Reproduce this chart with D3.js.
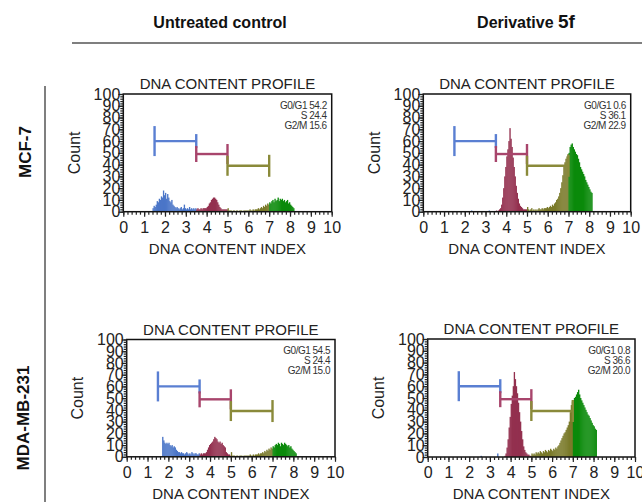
<!DOCTYPE html>
<html><head><meta charset="utf-8">
<script src="https://cdn.jsdelivr.net/npm/d3@7/dist/d3.min.js"></script>
<style>body{margin:0;background:#fff}svg{display:block}</style>
</head><body>
<svg id="chart" width="642" height="502"></svg>
<script>
// ---------------- DATA ----------------
const columnLabels = ["Untreated control", "Derivative"];
const columnLabelSuffix = ["", "5f"];
const rowLabels = ["MCF-7", "MDA-MB-231"];
const panelTitle = "DNA CONTENT PROFILE";
const xAxisTitle = "DNA CONTENT INDEX";
const yAxisTitle = "Count";
const xTicks = [0,1,2,3,4,5,6,7,8,9,10];
const yTicks = [0,10,20,30,40,50,60,70,80,90,100];
const statNames = ["G0/G1", "S", "G2/M"];
// histogram bins: start 1.40, width 0.05
const binStart = 1.40;
const binWidth = 0.05;
const countsMCF7Control = [
  3,5,4,6,9,8,11,10,13,12,
  18,14,16,11,15,12,9,8,10,6,
  5,4,3,4,3,2,3,4,2,3,
  6,3,2,3,2,4,2,3,2,3,
  2,3,2,3,2,2,3,2,3,3,
  3,3,4,5,7,8,10,11,12,12,
  11,10,8,6,4,3,2,2,2,2,
  2,2,3,1,1,1,0,1,1,0,
  1,1,0,1,1,1,0,1,1,1,
  1,1,1,2,1,1,2,1,2,2,
  2,3,2,3,4,3,5,4,6,5,
  7,6,8,7,9,10,8,11,9,10,
  12,9,11,10,11,9,10,8,9,10,
  7,8,6,5,4,3
];
const countsMCF7Deriv = [
  0,0,0,0,0,0,0,0,0,0,
  0,0,0,0,0,0,0,0,1,0,
  0,0,0,0,0,0,0,0,0,0,
  0,0,0,0,0,1,0,0,0,0,
  0,0,1,0,1,2,3,6,12,20,
  30,38,47,53,60,71,62,55,46,38,
  30,22,16,11,7,5,4,3,2,2,
  2,2,4,2,1,2,3,1,2,1,
  2,1,2,3,2,2,3,2,3,3,
  3,4,3,4,5,4,6,5,7,8,
  10,11,13,16,20,25,31,38,42,45,
  47,49,50,55,57,58,55,53,51,49,
  48,45,42,38,36,34,32,30,27,25,
  23,21,19,17,16
];
const countsMDAControl = [
  0,0,0,0,0,0,17,14,12,11,
  12,11,12,10,9,10,8,9,8,6,
  5,4,4,3,4,3,3,2,3,4,
  3,2,3,2,4,3,2,3,3,2,
  2,3,2,3,2,3,3,3,4,6,
  8,10,11,12,13,15,17,16,15,13,
  12,13,11,12,10,9,8,4,3,2,
  2,1,4,1,1,1,0,1,1,0,
  1,1,1,0,1,1,1,1,1,1,
  2,1,1,2,1,2,2,2,3,2,
  3,3,4,3,5,4,6,5,7,6,
  8,7,9,8,10,11,10,12,11,9,
  12,11,10,12,11,10,9,10,8,9,
  7,6,5,4,3
];
const countsMDADeriv = [
  0,0,0,0,0,0,0,0,0,0,
  0,0,0,0,0,0,0,0,0,0,
  0,0,0,1,0,0,0,0,0,0,
  0,0,0,0,0,0,0,0,0,3,
  0,0,0,0,0,0,1,3,8,15,
  25,34,45,52,60,72,66,60,54,46,
  38,30,22,15,9,6,4,3,2,2,
  1,1,3,2,3,2,4,3,4,3,
  5,4,3,5,4,6,5,4,6,5,
  7,6,5,7,6,8,7,9,10,12,
  14,16,18,20,21,23,25,27,30,38,
  44,47,48,50,51,53,55,57,53,50,
  48,46,44,42,40,38,36,35,33,31,
  29,27,26,24,23
];
const statsMCF7Control = [54.2, 24.4, 15.6];
const statsMCF7Deriv   = [0.6, 36.1, 22.9];
const statsMDAControl  = [54.5, 24.4, 15.0];
const statsMDADeriv    = [0.8, 36.6, 20.0];
// phase region boundaries and marker brackets (DNA index / count)
const regionBounds = [3.5, 5.0, 7.0];
const markerStarts = [1.5, 3.5, 5.0];
const markerEnds   = [3.5, 5.0, 7.0];
const markerLevels = [60, 49, 39];

// ---------------- STYLE / LAYOUT ----------------
const FONT = "'Liberation Sans', Arial, Helvetica, sans-serif";
const barColors = ["#4b76c8", "#93304f", "#7a7a2a", "#0b8a0b"];
const markerColors = ["#5a7fd2", "#a8456c", "#8a8a3a"];
const capLeftPx = [15, 8, 10];
const capRightPx = [7, 10, 11];

const panels = [
  {counts: countsMCF7Control, stats: statsMCF7Control, left: 123.3, top: 94,  w: 208.4, h: 117.7},
  {counts: countsMCF7Deriv,   stats: statsMCF7Deriv,   left: 423.3, top: 94,  w: 207.4, h: 117.7},
  {counts: countsMDAControl,  stats: statsMDAControl,  left: 126.7, top: 339.5, w: 208.3, h: 117.3},
  {counts: countsMDADeriv,    stats: statsMDADeriv,    left: 427.7, top: 339, w: 207.3, h: 118}
];

const svg = d3.select("#chart");
svg.append("rect").attr("width", 642).attr("height", 502).attr("fill", "#fff");

// column headers
svg.append("text").attr("x", 220).attr("y", 28).attr("text-anchor", "middle")
  .attr("font-family", FONT).attr("font-weight", "bold").attr("font-size", 16).attr("fill", "#111")
  .text(columnLabels[0]);
const h2 = svg.append("text").attr("x", 526).attr("y", 28).attr("text-anchor", "middle")
  .attr("font-family", FONT).attr("font-weight", "bold").attr("fill", "#111");
h2.append("tspan").attr("font-size", 16).text(columnLabels[1] + " ");
h2.append("tspan").attr("font-size", 19).text(columnLabelSuffix[1]);

// separator lines
svg.append("line").attr("x1", 72).attr("x2", 642).attr("y1", 43).attr("y2", 43)
  .attr("stroke", "#555").attr("stroke-width", 1.5);
svg.append("line").attr("x1", 45).attr("x2", 45).attr("y1", 86).attr("y2", 502)
  .attr("stroke", "#555").attr("stroke-width", 1.5);

// row labels
[[25, 152], [23, 418]].forEach(([cx, cy], i) => {
  svg.append("text").attr("transform", `translate(${cx},${cy}) rotate(-90)`)
    .attr("text-anchor", "middle").attr("dy", "0.35em")
    .attr("font-family", FONT).attr("font-weight", "bold").attr("font-size", 17).attr("fill", "#111")
    .text(rowLabels[i]);
});

function regionIndex(v) {
  if (v < regionBounds[0]) return 0;
  if (v < regionBounds[1]) return 1;
  if (v < regionBounds[2]) return 2;
  return 3;
}

panels.forEach(p => {
  const g = svg.append("g").attr("transform", `translate(${p.left},${p.top})`);
  const x = d3.scaleLinear().domain([0, 10]).range([0, p.w]);
  const y = d3.scaleLinear().domain([0, 100]).range([p.h, 0]);

  const bins = p.counts.map((c, i) => ({x0: Math.round((binStart + i * binWidth) * 100) / 100, c}))
    .filter(d => d.c > 0);
  const bw = x(binWidth) - x(0);
  g.selectAll("rect.bar").data(bins).join("rect").attr("class", "bar")
    .attr("x", d => x(d.x0)).attr("width", bw + 0.3)
    .attr("y", d => y(d.c)).attr("height", d => y(0) - y(d.c))
    .attr("fill", d => barColors[regionIndex(d.x0)]);

  // markers
  markerStarts.forEach((s, i) => {
    const e = markerEnds[i], lv = y(markerLevels[i]);
    const mg = g.append("g").attr("stroke", markerColors[i]).attr("stroke-width", 2.4).attr("fill", "none");
    mg.append("line").attr("x1", x(s)).attr("x2", x(e)).attr("y1", lv).attr("y2", lv);
    mg.append("line").attr("x1", x(s)).attr("x2", x(s)).attr("y1", lv - capLeftPx[i]).attr("y2", lv + capLeftPx[i]);
    mg.append("line").attr("x1", x(e)).attr("x2", x(e)).attr("y1", lv - capRightPx[i]).attr("y2", lv + capRightPx[i]);
  });

  // frame
  g.append("rect").attr("width", p.w).attr("height", p.h).attr("fill", "none")
    .attr("stroke", "#111").attr("stroke-width", 1.5);

  // x axis: minor + major
  const xMinor = d3.axisBottom(x).tickValues(d3.range(0, 10.01, 0.2)).tickSize(3).tickFormat("").tickSizeOuter(0);
  const gxm = g.append("g").attr("transform", `translate(0,${p.h})`).call(xMinor);
  gxm.select(".domain").remove();
  const xMajor = d3.axisBottom(x).tickValues(xTicks).tickSize(5).tickPadding(5).tickSizeOuter(0);
  const gx = g.append("g").attr("transform", `translate(0,${p.h})`).call(xMajor);
  gx.select(".domain").remove();
  gx.selectAll("text").attr("font-family", FONT).attr("font-size", 16).attr("fill", "#222");
  g.selectAll(".tick line").attr("stroke", "#222").attr("stroke-width", 1.2);

  // y axis
  const yMinor = d3.axisLeft(y).tickValues(d3.range(0, 101, 2)).tickSize(3).tickFormat("").tickSizeOuter(0);
  const gym = g.append("g").call(yMinor);
  gym.select(".domain").remove();
  const yMajor = d3.axisLeft(y).tickValues(yTicks).tickSize(5).tickPadding(-2).tickSizeOuter(0);
  const gy = g.append("g").call(yMajor);
  gy.select(".domain").remove();
  gy.selectAll("text").attr("font-family", FONT).attr("font-size", 16).attr("fill", "#222");
  g.selectAll(".tick line").attr("stroke", "#222").attr("stroke-width", 1.2);

  // titles
  g.append("text").attr("x", p.w / 2).attr("y", -5).attr("text-anchor", "middle")
    .attr("font-family", FONT).attr("font-size", 15).attr("fill", "#222").text(panelTitle);
  g.append("text").attr("x", p.w / 2).attr("y", p.h + 42).attr("text-anchor", "middle")
    .attr("font-family", FONT).attr("font-size", 15).attr("fill", "#222").text(xAxisTitle);
  g.append("text").attr("transform", `translate(-49,${p.h / 2}) rotate(-90)`).attr("text-anchor", "middle")
    .attr("dy", "0.35em").attr("font-family", FONT).attr("font-size", 16).attr("fill", "#222").text(yAxisTitle);

  // stats
  p.stats.forEach((v, i) => {
    g.append("text").attr("x", p.w - 5).attr("y", 14.5 + i * 10).attr("text-anchor", "end")
      .attr("font-family", FONT).attr("font-size", 10).attr("letter-spacing", -0.5).attr("fill", "#333")
      .text(statNames[i] + " " + v.toFixed(1));
  });
});
</script>
</body></html>
